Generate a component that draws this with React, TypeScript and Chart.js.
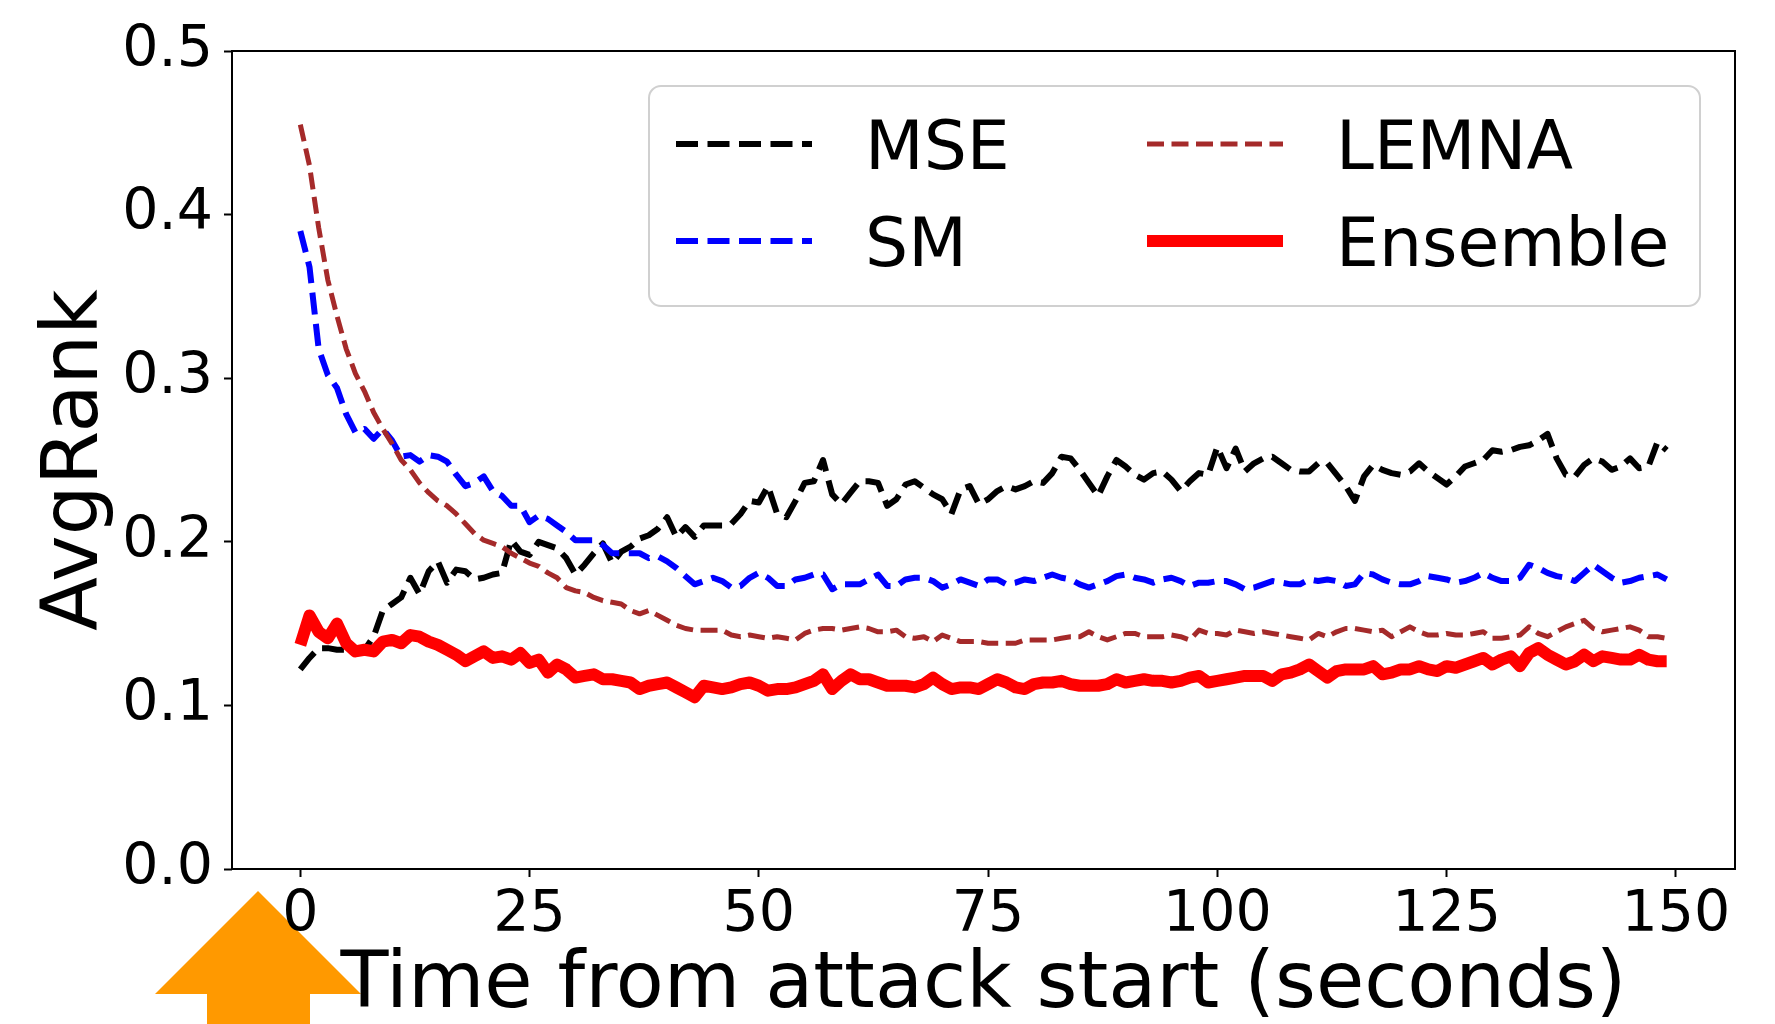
import React, { useEffect, useRef } from 'react';
import { Chart, registerables } from 'chart.js';

Chart.register(...registerables);

const TIME = [
  0, 1, 2, 3, 4, 5, 6, 7, 8, 9, 10, 11, 12, 13, 14, 15, 16, 17, 18, 19,
  20, 21, 22, 23, 24, 25, 26, 27, 28, 29, 30, 31, 32, 33, 34, 35, 36, 37, 38, 39,
  40, 41, 42, 43, 44, 45, 46, 47, 48, 49, 50, 51, 52, 53, 54, 55, 56, 57, 58, 59,
  60, 61, 62, 63, 64, 65, 66, 67, 68, 69, 70, 71, 72, 73, 74, 75, 76, 77, 78, 79,
  80, 81, 82, 83, 84, 85, 86, 87, 88, 89, 90, 91, 92, 93, 94, 95, 96, 97, 98, 99,
  100, 101, 102, 103, 104, 105, 106, 107, 108, 109, 110, 111, 112, 113, 114, 115, 116, 117, 118, 119,
  120, 121, 122, 123, 124, 125, 126, 127, 128, 129, 130, 131, 132, 133, 134, 135, 136, 137, 138, 139,
  140, 141, 142, 143, 144, 145, 146, 147, 148, 149,
];

const MSE = [
  0.122, 0.129, 0.135, 0.135, 0.134, 0.134, 0.135, 0.134, 0.142, 0.158,
  0.162, 0.166, 0.178, 0.168, 0.182, 0.188, 0.175, 0.183, 0.182, 0.177,
  0.178, 0.180, 0.181, 0.201, 0.194, 0.192, 0.200, 0.198, 0.196, 0.190,
  0.180, 0.186, 0.193, 0.199, 0.187, 0.194, 0.197, 0.202, 0.204, 0.208,
  0.215, 0.203, 0.209, 0.203, 0.210, 0.210, 0.210, 0.211, 0.217, 0.225,
  0.224, 0.234, 0.217, 0.215, 0.225, 0.236, 0.237, 0.250, 0.229, 0.223,
  0.230, 0.237, 0.237, 0.236, 0.222, 0.226, 0.235, 0.237, 0.233, 0.229,
  0.226, 0.217, 0.232, 0.234, 0.223, 0.226, 0.231, 0.234, 0.232, 0.234,
  0.237, 0.236, 0.242, 0.252, 0.251, 0.244, 0.236, 0.228, 0.240, 0.250,
  0.246, 0.241, 0.238, 0.242, 0.243, 0.238, 0.231, 0.237, 0.242, 0.241,
  0.258, 0.245, 0.257, 0.243, 0.248, 0.251, 0.252, 0.248, 0.244, 0.243,
  0.243, 0.248, 0.248, 0.241, 0.234, 0.225, 0.240, 0.247, 0.244, 0.242,
  0.241, 0.243, 0.248, 0.243, 0.239, 0.235, 0.240, 0.246, 0.248, 0.250,
  0.256, 0.255, 0.256, 0.258, 0.259, 0.262, 0.266, 0.251, 0.241, 0.240,
  0.247, 0.251, 0.249, 0.244, 0.246, 0.251, 0.245, 0.246, 0.261, 0.256,
];

const SM = [
  0.390, 0.368, 0.318, 0.302, 0.294, 0.278, 0.267, 0.269, 0.263, 0.269,
  0.262, 0.252, 0.253, 0.249, 0.253, 0.252, 0.249, 0.241, 0.234, 0.236,
  0.240, 0.231, 0.228, 0.222, 0.222, 0.212, 0.216, 0.214, 0.210, 0.206,
  0.201, 0.201, 0.201, 0.198, 0.193, 0.193, 0.193, 0.193, 0.190, 0.191,
  0.188, 0.184, 0.179, 0.174, 0.176, 0.178, 0.176, 0.172, 0.173, 0.178,
  0.181, 0.178, 0.173, 0.173, 0.177, 0.178, 0.180, 0.180, 0.171, 0.174,
  0.174, 0.174, 0.177, 0.180, 0.173, 0.173, 0.177, 0.178, 0.178, 0.176,
  0.172, 0.174, 0.177, 0.175, 0.173, 0.177, 0.177, 0.174, 0.175, 0.177,
  0.176, 0.178, 0.180, 0.178, 0.177, 0.174, 0.172, 0.174, 0.176, 0.179,
  0.180, 0.178, 0.177, 0.175, 0.177, 0.178, 0.176, 0.173, 0.175, 0.175,
  0.176, 0.176, 0.174, 0.171, 0.172, 0.174, 0.176, 0.175, 0.174, 0.174,
  0.177, 0.176, 0.177, 0.176, 0.173, 0.174, 0.181, 0.180, 0.177, 0.175,
  0.174, 0.174, 0.176, 0.179, 0.178, 0.177, 0.175, 0.176, 0.178, 0.181,
  0.178, 0.176, 0.176, 0.178, 0.186, 0.184, 0.181, 0.179, 0.178, 0.176,
  0.181, 0.186, 0.182, 0.178, 0.175, 0.176, 0.178, 0.179, 0.180, 0.177,
];

const LEMNA = [
  0.455, 0.430, 0.392, 0.360, 0.338, 0.318, 0.303, 0.292, 0.279, 0.269,
  0.260, 0.250, 0.244, 0.236, 0.230, 0.225, 0.222, 0.217, 0.211, 0.205,
  0.201, 0.199, 0.197, 0.193, 0.190, 0.187, 0.185, 0.181, 0.178, 0.172,
  0.170, 0.169, 0.166, 0.164, 0.163, 0.162, 0.158, 0.156, 0.158, 0.155,
  0.152, 0.149, 0.147, 0.146, 0.146, 0.146, 0.146, 0.143, 0.142, 0.143,
  0.142, 0.141, 0.142, 0.141, 0.140, 0.144, 0.146, 0.147, 0.147, 0.146,
  0.147, 0.148, 0.147, 0.145, 0.145, 0.146, 0.142, 0.141, 0.142, 0.139,
  0.143, 0.141, 0.139, 0.139, 0.139, 0.138, 0.138, 0.138, 0.138, 0.140,
  0.140, 0.140, 0.140, 0.141, 0.142, 0.142, 0.145, 0.142, 0.140, 0.142,
  0.144, 0.144, 0.142, 0.142, 0.142, 0.143, 0.142, 0.140, 0.146, 0.144,
  0.144, 0.143, 0.146, 0.145, 0.144, 0.145, 0.144, 0.143, 0.142, 0.141,
  0.140, 0.144, 0.142, 0.145, 0.147, 0.147, 0.146, 0.145, 0.146, 0.142,
  0.145, 0.148, 0.145, 0.143, 0.143, 0.144, 0.143, 0.143, 0.144, 0.145,
  0.141, 0.141, 0.142, 0.143, 0.148, 0.144, 0.142, 0.145, 0.148, 0.150,
  0.152, 0.147, 0.145, 0.146, 0.147, 0.148, 0.146, 0.142, 0.142, 0.141,
];

const ENSEMBLE = [
  0.137, 0.155, 0.145, 0.141, 0.150, 0.138, 0.133, 0.134, 0.133, 0.139,
  0.140, 0.138, 0.143, 0.142, 0.139, 0.137, 0.134, 0.131, 0.127, 0.130,
  0.133, 0.129, 0.130, 0.128, 0.132, 0.126, 0.128, 0.120, 0.125, 0.122,
  0.117, 0.118, 0.119, 0.116, 0.116, 0.115, 0.114, 0.110, 0.112, 0.113,
  0.114, 0.111, 0.108, 0.105, 0.112, 0.111, 0.110, 0.111, 0.113, 0.114,
  0.112, 0.109, 0.110, 0.110, 0.111, 0.113, 0.115, 0.119, 0.110, 0.115,
  0.119, 0.116, 0.116, 0.114, 0.112, 0.112, 0.112, 0.111, 0.113, 0.117,
  0.113, 0.110, 0.111, 0.111, 0.110, 0.113, 0.116, 0.114, 0.111, 0.110,
  0.113, 0.114, 0.114, 0.115, 0.113, 0.112, 0.112, 0.112, 0.113, 0.116,
  0.114, 0.115, 0.116, 0.115, 0.115, 0.114, 0.115, 0.117, 0.118, 0.114,
  0.115, 0.116, 0.117, 0.118, 0.118, 0.118, 0.115, 0.119, 0.120, 0.122,
  0.125, 0.121, 0.117, 0.121, 0.122, 0.122, 0.122, 0.124, 0.119, 0.120,
  0.122, 0.122, 0.124, 0.122, 0.121, 0.124, 0.123, 0.125, 0.127, 0.129,
  0.125, 0.128, 0.130, 0.124, 0.132, 0.135, 0.131, 0.128, 0.125, 0.127,
  0.131, 0.127, 0.130, 0.129, 0.128, 0.128, 0.131, 0.128, 0.127, 0.127,
];

const SERIES_LABELS = ['MSE', 'SM', 'LEMNA', 'Ensemble'];
const X_TICKS = [0, 25, 50, 75, 100, 125, 150];
const Y_TICKS = [0, 0.1, 0.2, 0.3, 0.4, 0.5];
const X_TITLE = 'Time from attack start (seconds)';
const Y_TITLE = 'AvgRank';

const FONT = "'DejaVu Sans', 'Liberation Sans', sans-serif";

const arrowPlugin = {
  id: 'startArrow',
  beforeDraw(chart: any) {
    const ctx = chart.ctx;
    const ca = chart.chartArea;
    const ox = ca.left;
    const oy = ca.bottom;
    ctx.save();
    ctx.fillStyle = '#FF9900';
    ctx.beginPath();
    ctx.moveTo(ox + 26, oy + 22);
    ctx.lineTo(ox + 129, oy + 125);
    ctx.lineTo(ox + 78, oy + 125);
    ctx.lineTo(ox + 78, oy + 160);
    ctx.lineTo(ox - 25, oy + 160);
    ctx.lineTo(ox - 25, oy + 125);
    ctx.lineTo(ox - 77, oy + 125);
    ctx.closePath();
    ctx.fill();
    ctx.restore();
  },
};

const framePlugin = {
  id: 'frame',
  afterDatasetsDraw(chart: any) {
    const ctx = chart.ctx;
    const ca = chart.chartArea;
    ctx.save();
    ctx.strokeStyle = '#000';
    ctx.lineWidth = 2;
    ctx.strokeRect(ca.left, ca.top, ca.right - ca.left, ca.bottom - ca.top);
    ctx.restore();
  },
};

const legendPlugin = {
  id: 'boxLegend',
  afterDraw(chart: any) {
    const ctx = chart.ctx;
    const ca = chart.chartArea;
    const bx = ca.left + 417;
    const by = ca.top + 35;
    const bw = 1051;
    const bh = 220;
    const r = 12;
    ctx.save();
    ctx.beginPath();
    ctx.moveTo(bx + r, by);
    ctx.lineTo(bx + bw - r, by);
    ctx.arcTo(bx + bw, by, bx + bw, by + r, r);
    ctx.lineTo(bx + bw, by + bh - r);
    ctx.arcTo(bx + bw, by + bh, bx + bw - r, by + bh, r);
    ctx.lineTo(bx + r, by + bh);
    ctx.arcTo(bx, by + bh, bx, by + bh - r, r);
    ctx.lineTo(bx, by + r);
    ctx.arcTo(bx, by, bx + r, by, r);
    ctx.closePath();
    ctx.fillStyle = 'rgba(255,255,255,0.8)';
    ctx.fill();
    ctx.strokeStyle = '#d0d0d0';
    ctx.lineWidth = 2;
    ctx.stroke();

    const colX = [ca.left + 444, ca.left + 915];
    const rowY = [ca.top + 93, ca.top + 190];
    const lineLen = 136;
    const textGap = 189;
    chart.data.datasets.forEach((ds: any, i: number) => {
      const col = Math.floor(i / 2);
      const row = i % 2;
      const x = colX[col];
      const y = rowY[row];
      ctx.beginPath();
      ctx.strokeStyle = ds.borderColor;
      ctx.lineWidth = ds.borderWidth;
      ctx.setLineDash(ds.borderDash || []);
      ctx.lineCap = 'butt';
      ctx.moveTo(x, y);
      ctx.lineTo(x + lineLen, y);
      ctx.stroke();
      ctx.setLineDash([]);
      ctx.fillStyle = '#000';
      ctx.font = `68px ${FONT}`;
      ctx.textAlign = 'left';
      ctx.textBaseline = 'alphabetic';
      ctx.fillText(ds.label, x + textGap, y + 25);
    });
    ctx.restore();
  },
};

export default function App() {
  const ref = useRef<HTMLCanvasElement>(null);

  useEffect(() => {
    document.body.style.margin = '0';
    const canvas = ref.current;
    if (!canvas) return;
    const toPts = (arr: number[]) => arr.map((y, i) => ({ x: TIME[i], y }));
    const tickGrid = {
      display: true,
      drawOnChartArea: false,
      drawTicks: true,
      tickLength: 8,
      tickWidth: 2,
      tickColor: '#000',
    };
    const chart = new Chart(canvas, {
      type: 'line',
      data: {
        datasets: [
          {
            label: SERIES_LABELS[0],
            data: toPts(MSE),
            borderColor: '#000000',
            borderWidth: 6,
            borderDash: [22, 9.5],
            borderJoinStyle: 'round',
            borderCapStyle: 'butt',
            pointRadius: 0,
            tension: 0,
            fill: false,
            order: 4,
          },
          {
            label: SERIES_LABELS[1],
            data: toPts(SM),
            borderColor: '#0000FF',
            borderWidth: 6,
            borderDash: [22, 9.5],
            borderJoinStyle: 'round',
            borderCapStyle: 'butt',
            pointRadius: 0,
            tension: 0,
            fill: false,
            order: 3,
          },
          {
            label: SERIES_LABELS[2],
            data: toPts(LEMNA),
            borderColor: '#A52A2A',
            borderWidth: 5,
            borderDash: [17, 7.5],
            borderJoinStyle: 'round',
            borderCapStyle: 'butt',
            pointRadius: 0,
            tension: 0,
            fill: false,
            order: 2,
          },
          {
            label: SERIES_LABELS[3],
            data: toPts(ENSEMBLE),
            borderColor: '#FF0000',
            borderWidth: 12,
            borderJoinStyle: 'round',
            borderCapStyle: 'butt',
            pointRadius: 0,
            tension: 0,
            fill: false,
            order: 1,
          },
        ],
      },
      options: {
        responsive: false,
        devicePixelRatio: 1,
        animation: false,
        layout: { padding: { top: 51, right: 40, bottom: 0, left: 0 } },
        plugins: {
          legend: { display: false },
          tooltip: { enabled: false },
        },
        scales: {
          x: {
            type: 'linear',
            min: -7.45,
            max: 156.45,
            afterBuildTicks: (s: any) => {
              s.ticks = X_TICKS.map((v) => ({ value: v }));
            },
            afterFit: (s: any) => {
              s.height = 155;
            },
            ticks: {
              autoSkip: false,
              maxRotation: 0,
              padding: 5,
              color: '#000',
              font: { family: FONT, size: 57 },
              callback: (v: any) => String(v),
            },
            grid: tickGrid,
            border: { display: false },
            title: {
              display: true,
              text: X_TITLE,
              color: '#000',
              font: { family: FONT, size: 78.5, lineHeight: 1 },
              padding: { top: 0, bottom: -2 },
            },
          },
          y: {
            type: 'linear',
            min: 0,
            max: 0.5,
            afterBuildTicks: (s: any) => {
              s.ticks = Y_TICKS.map((v) => ({ value: v }));
            },
            afterFit: (s: any) => {
              s.width = 232;
            },
            ticks: {
              padding: 11,
              color: '#000',
              font: { family: FONT, size: 57 },
              callback: (v: any) => Number(v).toFixed(1),
            },
            grid: tickGrid,
            border: { display: false },
            title: {
              display: true,
              text: Y_TITLE,
              color: '#000',
              font: { family: FONT, size: 78.5 },
              padding: { top: 30, bottom: 0 },
            },
          },
        },
      },
      plugins: [arrowPlugin, framePlugin, legendPlugin],
    } as any);
    return () => chart.destroy();
  }, []);

  return (
    <canvas
      ref={ref}
      width={1775}
      height={1024}
      style={{ display: 'block', width: '1775px', height: '1024px' }}
    />
  );
}
